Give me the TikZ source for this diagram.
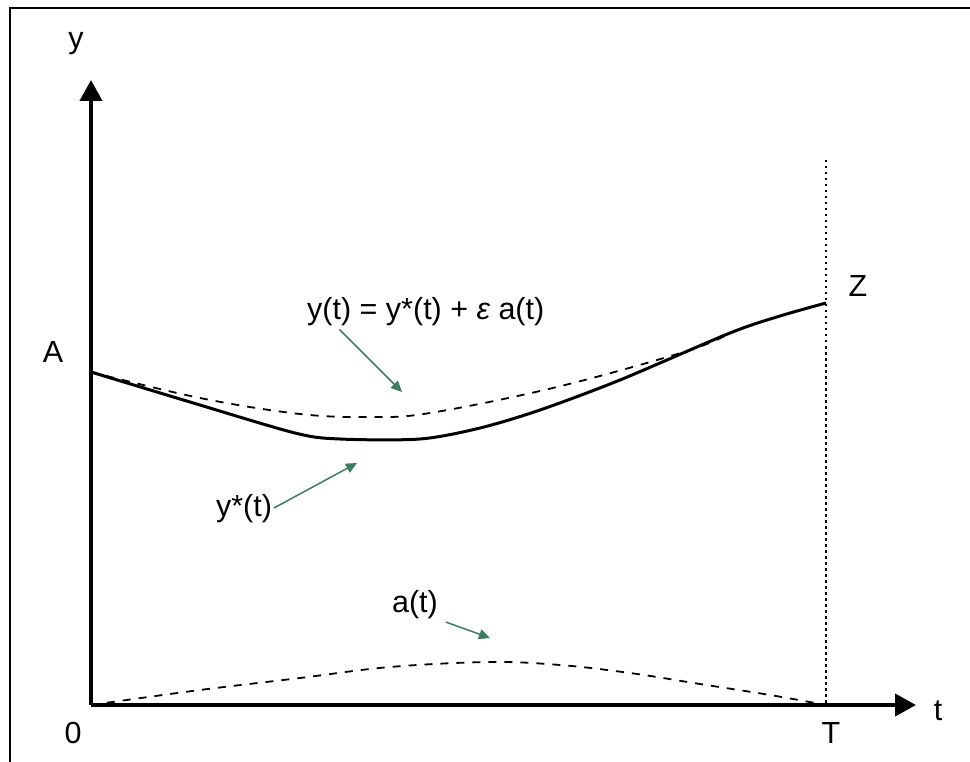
\documentclass[tikz,border=0pt]{standalone}
\usepackage{fontspec}
\setmainfont{Liberation Sans}
\usetikzlibrary{arrows.meta}

\definecolor{arrowgreen}{RGB}{60,125,95}
\tikzset{
  axis/.style={line width=4pt,-{Triangle[length=21pt,width=22pt]}},
  pointer/.style={draw=arrowgreen,line width=1.5pt,-{Triangle[length=11pt,width=10pt]},shorten <=2pt},
  lbl/.style={font=\fontsize{30.5}{36}\selectfont,inner sep=0pt},
  dashcurve/.style={line width=1.8pt,dash pattern=on 8pt off 8pt}
}

\begin{document}
\begin{tikzpicture}[x=1pt,y=-1pt]
\useasboundingbox (0,0) rectangle (970,762);
% frame
\draw[line width=2.5pt] (10,762) -- (10,8) -- (970,8);
% axes
\coordinate (O) at (91,705);
\coordinate (ytip) at (91,80);
\coordinate (ttip) at (916,705);
\draw[axis] (O) -- (ytip);
\draw[axis] (O) -- (ttip);
\draw[line width=2.5pt,dash pattern=on 2.5pt off 3.5pt] (826,160) -- (826,705);
% axis labels
\node[lbl] (ylab) at (76,44) {y};
\node[lbl] (tlab) at (938,711) {t};
\node[lbl] (zero) at (73,733) {0};
\node[lbl] (Tlab) at (831,733) {T};
\node[lbl] (Alab) at (53,352) {A};
\node[lbl] (Zlab) at (858,286) {Z};
% optimal path y*(t)
\draw[line width=3pt,line join=round] plot[smooth,tension=0.5] coordinates
  {(91,372) (190,402) (295,433) (340,439) (420,439) (480,428) (540,410) (620,380) (730,333) (780,316) (826,303)};
% perturbed path y(t)
\draw[dashcurve] plot[smooth,tension=0.6] coordinates
  {(91,372) (200,398) (300,414) (370,417) (430,413) (557,387) (687,351) (730,333)};
% perturbation a(t)
\draw[dashcurve] plot[smooth,tension=0.6] coordinates
  {(91,705) (200,690) (300,678) (390,667) (490,662) (560,665) (630,673) (700,684) (770,695) (826,705)};
% labels with pointers
\node[lbl,anchor=south west] (ylabel) at (307,326) {y(t) = y*(t) + {\itshape ε} a(t)};
\node[lbl] (ystar) at (244,509) {y*(t)};
\node[lbl] (alab) at (415,605) {a(t)};
\coordinate (ytip1) at (402,392);
\coordinate (ytip2) at (357,463);
\coordinate (atip) at (490,638);
\draw[pointer] (ylabel.south west) ++(31,2) -- (ytip1);
\draw[pointer] (ystar.east) -- (ytip2);
\draw[pointer] (alab.south east) ++(6,2) -- (atip);
\end{tikzpicture}
\end{document}
